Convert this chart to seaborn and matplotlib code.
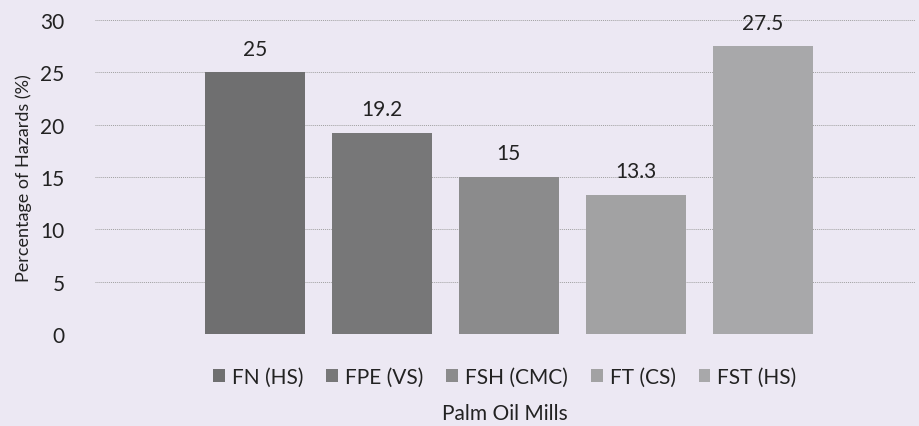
import matplotlib
matplotlib.use("Agg")
import matplotlib.pyplot as plt
import seaborn as sns
import pandas as pd

# values
mills = ['FN (HS)', 'FPE (VS)', 'FSH (CMC)', 'FT (CS)', 'FST (HS)']
hazards = [25, 19.2, 15, 13.3, 27.5]
bar_colors = ['#6f6f70', '#777778', '#8b8b8c', '#a2a2a3', '#a8a8aa']

data = pd.DataFrame({'Mill': mills, 'Hazard': hazards})

sns.set_style('white')
plt.rcParams['font.family'] = ['Lato', 'DejaVu Sans']
bg = '#ece8f3'

fig = plt.figure(figsize=(9.2, 4.27), dpi=100, facecolor=bg)
ax = fig.add_axes([95 / 920, 92 / 427, 820 / 920, 314 / 427], facecolor=bg)

sns.barplot(data=data, x='Mill', y='Hazard', hue='Mill', palette=bar_colors,
            width=0.79, ax=ax, legend=True, dodge=False, linewidth=0, saturation=1)

for i, v in enumerate(hazards):
    ax.text(i, v + 1.3, f'{v:g}', ha='center', va='bottom', fontsize=15, color='#222222')

ax.set_ylim(0, 30)
ax.set_xlim(-1.26, 5.2)
ax.set_yticks(range(0, 31, 5))
ax.tick_params(axis='y', labelsize=15, length=0, pad=22, colors='#222222')
ax.set_xticks([])
ax.yaxis.grid(True, linestyle=(0, (1, 1)), color='#a0a0a0', linewidth=0.7)
ax.set_axisbelow(True)
for s in ax.spines.values():
    s.set_visible(False)

ax.set_ylabel('Percentage of Hazards (%)', fontsize=13, color='#222222', labelpad=6)
ax.set_xlabel('Palm Oil Mills', fontsize=15, color='#222222', labelpad=50)

leg = ax.legend(loc='upper center', bbox_to_anchor=(0.5, -0.045), ncol=5, frameon=False,
                fontsize=15, handlelength=0.55, handleheight=0.55, handletextpad=0.35,
                columnspacing=1.1)
for t in leg.get_texts():
    t.set_color('#222222')

fig.savefig('out.png', dpi=100, facecolor=bg)
